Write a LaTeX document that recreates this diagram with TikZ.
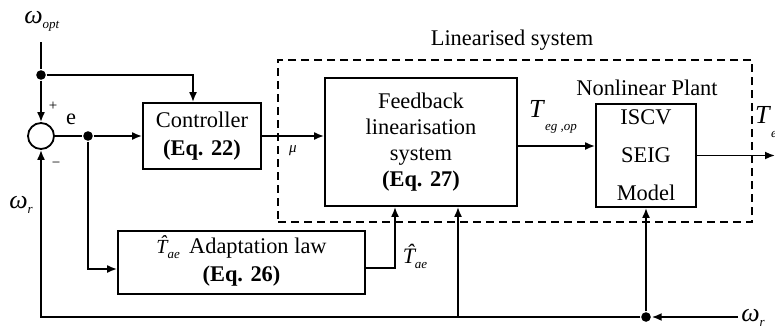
\documentclass[tikz,border=0pt]{standalone}
\usepackage{fontspec}
\setmainfont{Liberation Serif}
\usetikzlibrary{arrows.meta}

% italic symbol with a lowered italic subscript
\newcommand{\symsub}[3][-0.45ex]{\textit{#2}\raisebox{#1}{\fontsize{6.5}{7}\selectfont\textit{#3}}}
% italic T carrying a circumflex
\newcommand{\hatT}{\ooalign{\textit{T}\cr\hidewidth\raisebox{0.2em}{\kern0.12em\textit{\char"02C6}}\hidewidth\cr}}

\begin{document}
\begin{tikzpicture}[x=0.5pt,y=-0.5pt,
  line width=0.9pt,
  arr/.style={-{Latex[length=5pt,width=4pt]}},
  blk/.style={draw, line width=0.9pt, inner sep=0pt, align=center,
              font=\fontsize{11.2}{13}\selectfont},
  dot/.style={circle, fill, inner sep=0pt, minimum size=4.8pt},
  lbl/.style={inner sep=0pt, font=\fontsize{11.2}{13}\selectfont},
  sym/.style={inner sep=0pt, font=\fontsize{13}{15}\selectfont},
  small/.style={inner sep=0pt, font=\fontsize{7.5}{8}\selectfont}]

\useasboundingbox (0,0) rectangle (775,327);

% linearised subsystem frame
\node[draw, dashed, dash pattern=on 4pt off 2.5pt, line width=0.7pt,
      minimum width=237pt, minimum height=81pt, inner sep=0pt] (lin) at (515,141) {};
\node[lbl] (linlbl) at (512,40) {Linearised system};

% summing junction
\node[draw, circle, minimum size=13pt, inner sep=0pt] (sum) at (41,136) {};

% blocks
\node[blk, minimum width=59pt, minimum height=33pt] (ctrl) at (202,136)
  {Controller\\[1pt]\textbf{(Eq. 22)}};
\node[blk, minimum width=96pt, minimum height=64pt] (fb) at (421,142)
  {Feedback\\linearisation\\system\\\textbf{(Eq. 27)}};
\node[blk, minimum width=50pt, minimum height=51.5pt] (plant) at (646,155.5)
  {ISCV\\[6pt]SEIG\\[6pt]Model};
\node[lbl] (plantlbl) at (647,88) {Nonlinear Plant};
\node[blk, minimum width=123.5pt, minimum height=31.5pt] (adapt) at (241.5,262.5)
  {{\fontsize{10}{12}\selectfont\symsub{\hatT}{ae}}\, Adaptation law\\[1pt]\textbf{(Eq. 26)}};

% reference input and its branch
\coordinate (wtop) at (41,42);
\node[sym] (woptlbl) at (42,21) {\symsub{ω}{opt}};
\node[dot] (j1) at (41,75) {};
\coordinate (c1) at ([xshift=-4.5pt]ctrl.north);
\draw (wtop) -- (j1);
\draw[arr] (j1) -- (sum.north);
\draw[arr] (j1) -| (c1);
\node[small] (plus) at (53,106) {+};
\node[small] (minus) at (56,165) {−};
\node[lbl] (elbl) at (71,119) {e};

% error path
\node[dot] (j2) at (88,136) {};
\draw (sum.east) -- (j2);
\draw[arr] (j2) -- (ctrl.west);
\coordinate (a1) at ([yshift=-3.25pt]adapt.west);
\draw[arr] (j2) |- (a1);

% controller to linearisation
\draw[arr] (ctrl.east) -- (ctrl.east -| fb.west);
\node[small] (mulbl) at (293,151) {\textit{μ}};

% linearisation to plant
\coordinate (f0) at ([yshift=-2pt]fb.east);
\draw[arr] (f0) -- (f0 -| plant.west);
\node[sym] (teglbl) at (553,117) {\symsub[-1.1ex]{T}{eg ,op}};

% plant output
\coordinate (out) at (775,155.5);
\draw[arr] (plant.east) -- (out);
\node[sym] (telbl) at (766,122) {\symsub[-1.1ex]{T}{e}};

% adaptation output into linearisation
\coordinate (f1) at ([xshift=-13pt]fb.south);
\coordinate (f2) at ([xshift=18.5pt]fb.south);
\draw[arr] ([yshift=-2.75pt]adapt.east) -| (f1);
\node[inner sep=0pt, font=\fontsize{11}{13}\selectfont] (taelbl) at (415,259) {\symsub{\hatT}{ae}};

% speed feedback
\coordinate (wr) at (738,317);
\node[sym] (wrlbl) at (753,318) {\symsub{ω}{r}};
\node[dot] (j3) at (646,317) {};
\coordinate (bl) at (41,317);
\draw[arr] (wr) -- (j3);
\draw[arr] (j3) -- (plant.south);
\draw[arr] (j3) -- (bl) -- (sum.south);
\draw[arr] (f2 |- bl) -- (f2);
\node[sym] (wrlbl2) at (21,205) {\symsub{ω}{r}};
\end{tikzpicture}
\end{document}
